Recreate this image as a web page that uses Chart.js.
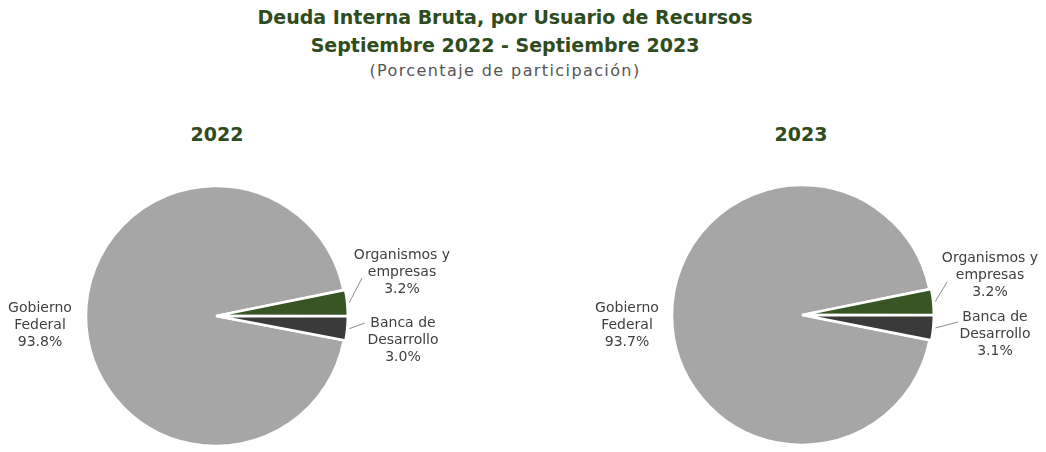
<!DOCTYPE html>
<html>
<head>
<meta charset="utf-8">
<script src="https://cdn.jsdelivr.net/npm/chart.js@4.4.0/dist/chart.umd.min.js"></script>
<style>
  html, body { margin: 0; padding: 0; background: #ffffff; }
  body { width: 1046px; height: 452px; position: relative; overflow: hidden; font-family: "DejaVu Sans", sans-serif; }
  .t { position: absolute; left: 0; width: 1010px; text-align: center; white-space: nowrap; }
  #t1 { top: 6px; font-size: 19px; font-weight: bold; color: #2f4b20; }
  #t2 { top: 34px; font-size: 19px; font-weight: bold; color: #2f4b20; }
  #t3 { top: 61px; font-size: 16px; letter-spacing: 1.4px; color: #555555; }
  .yr { position: absolute; top: 123px; width: 120px; text-align: center; font-size: 19px; font-weight: bold; color: #2f4b20; }
  canvas { position: absolute; left: 0; top: 0; }
</style>
</head>
<body>
<div class="t" id="t1">Deuda Interna Bruta, por Usuario de Recursos</div>
<div class="t" id="t2">Septiembre 2022 - Septiembre 2023</div>
<div class="t" id="t3">(Porcentaje de participación)</div>
<div class="yr" id="y0" style="left:157px"></div>
<div class="yr" id="y1" style="left:741px"></div>
<canvas id="c0" width="1046" height="452"></canvas>
<canvas id="c1" width="1046" height="452"></canvas>
<script>
// ---- data ----
const years = ['2022', '2023'];
const categories = ['Gobierno Federal', 'Organismos y empresas', 'Banca de Desarrollo'];
const labelLines = [['Gobierno', 'Federal'], ['Organismos y', 'empresas'], ['Banca de', 'Desarrollo']];
const values2022 = [93.8, 3.2, 3.0];
const values2023 = [93.7, 3.2, 3.1];

// ---- styles / layout ----
const sliceColors = ['#a6a6a6', '#375623', '#3a3a3a'];
const sliceOffsets = [0, 4, 4];
const layouts = [
  { padding: { left: 0, right: 614, top: 180, bottom: 0 },
    labels: [ {dx: -176, dy: -8}, {dx: 186, dy: -61}, {dx: 187, dy: 7} ],
    leaders: [ null, {dx: 146, dy: -38}, {dx: 149, dy: 7} ] },
  { padding: { left: 558, right: 0, top: 178, bottom: 0 },
    labels: [ {dx: -175, dy: -7}, {dx: 188, dy: -57}, {dx: 193, dy: 2} ],
    leaders: [ null, {dx: 145, dy: -33}, {dx: 156, dy: 7} ] }
];

document.getElementById('y0').textContent = years[0];
document.getElementById('y1').textContent = years[1];

const labelPlugin = {
  id: 'sliceLabels',
  afterDatasetsDraw(chart, args, opts) {
    const ctx = chart.ctx;
    const meta = chart.getDatasetMeta(0);
    const vals = chart.data.datasets[0].data;
    ctx.save();
    ctx.font = '14px "DejaVu Sans", sans-serif';
    ctx.fillStyle = '#404040';
    ctx.textAlign = 'center';
    ctx.textBaseline = 'middle';
    meta.data.forEach((arc, i) => {
      const p = arc.getProps(['x', 'y', 'startAngle', 'endAngle', 'outerRadius'], true);
      const cx = p.x, cy = p.y;
      const lp = opts.labels[i];
      const lines = labelLines[i].concat([vals[i].toFixed(1) + '%']);
      lines.forEach((ln, k) => {
        ctx.fillText(ln, cx + lp.dx, cy + lp.dy + k * 17);
      });
      const ld = opts.leaders[i];
      if (ld) {
        const mid = (p.startAngle + p.endAngle) / 2;
        const r = p.outerRadius + sliceOffsets[i];
        const sx = cx + Math.cos(mid) * r, sy = cy + Math.sin(mid) * r;
        ctx.strokeStyle = '#8c8c8c';
        ctx.lineWidth = 1;
        ctx.beginPath();
        ctx.moveTo(sx, sy);
        ctx.lineTo(cx + ld.dx, cy + ld.dy);
        ctx.stroke();
      }
    });
    ctx.restore();
  }
};

function makeChart(id, values, lay) {
  const total = values.reduce((a, b) => a + b, 0);
  const rotation = 90 + 360 * values[values.length - 1] / total;
  return new Chart(document.getElementById(id), {
    type: 'pie',
    data: {
      labels: categories,
      datasets: [{
        data: values,
        backgroundColor: sliceColors,
        borderColor: '#ffffff',
        borderWidth: 2.5,
        offset: sliceOffsets
      }]
    },
    options: {
      responsive: false,
      animation: false,
      rotation: rotation,
      radius: 130,
      layout: { padding: lay.padding },
      plugins: {
        legend: { display: false },
        tooltip: { enabled: false },
        title: { display: false },
        sliceLabels: { labels: lay.labels, leaders: lay.leaders }
      },
      events: []
    },
    plugins: [labelPlugin]
  });
}

makeChart('c0', values2022, layouts[0]);
makeChart('c1', values2023, layouts[1]);
</script>
</body>
</html>
